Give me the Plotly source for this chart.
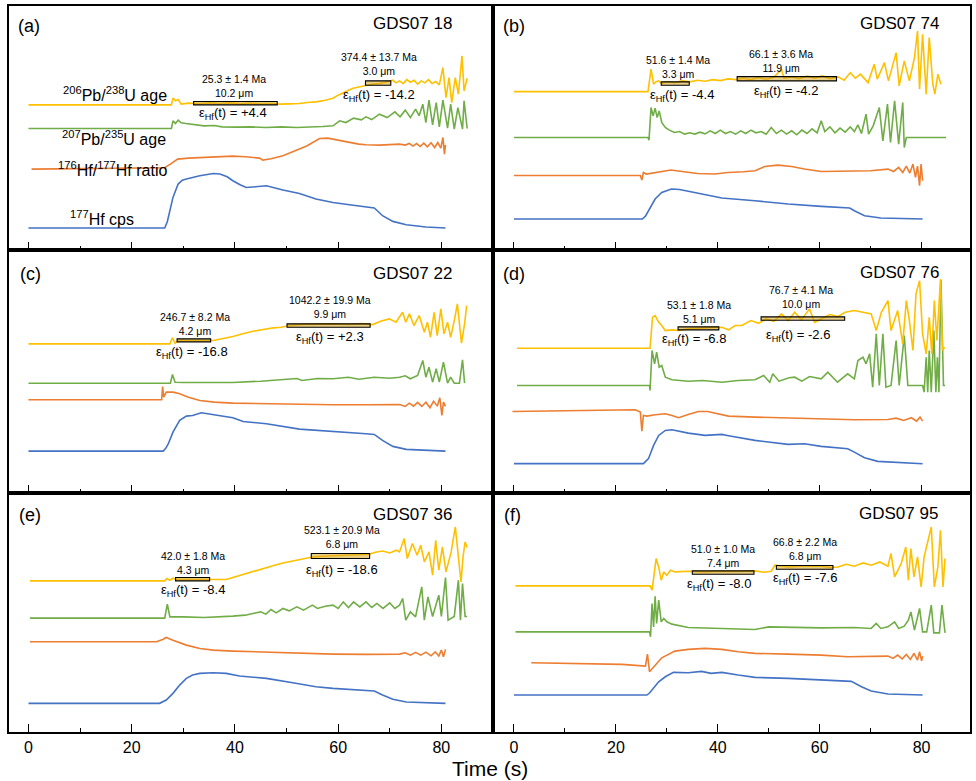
import plotly.graph_objects as go
from plotly.subplots import make_subplots

# signal traces: (time in s, relative signal level)
# panel (a) GDS07 18
a_pb206 = [(0, 145), (27.7, 145), (28.0, 151.7), (28.5, 149), (29.0, 150.3), (29.6, 145.7), (31, 146.7), (33, 146),
           (35, 147), (37, 146.3), (39, 147), (41, 146), (43, 146.7), (45, 146), (47, 146.3), (48.6, 145.7), (50.5, 146),
           (52.5, 146.3), (54, 147.3), (55.7, 148), (57.5, 149.7), (59, 151.7), (60, 154.7), (60.9, 157.3), (62, 159.7),
           (62.9, 161.7), (64.1, 163), (65.4, 165), (66.5, 165.7), (68, 166.3), (69, 167.3), (70.6, 169.7), (71.2, 167),
           (71.9, 169), (72.6, 166.3), (73.3, 170.3), (74, 167.7), (74.7, 169.7), (75.4, 165.7), (76.1, 169), (76.8, 167),
           (77.5, 170.3), (78.2, 166.3), (78.9, 168.3), (79.6, 165), (80.3, 182.3), (80.9, 152.3), (81.5, 172.3),
           (82.0, 147.3), (82.7, 172.3), (83.3, 155.7), (84.0, 194), (84.4, 159), (85.0, 171.7)]
a_pb207 = [(0, 121.3), (27.7, 121.3), (28.0, 129), (28.5, 126.3), (29, 129.7), (29.6, 127), (30.5, 126.3), (32, 125),
           (34, 124), (36, 124.3), (37.5, 123), (40, 122.7), (43, 123), (46, 122.3), (49, 123), (52, 122.3), (55, 122.7),
           (57, 123.3), (59, 124), (60.3, 129), (61.5, 127.3), (63, 131.7), (64.5, 130), (65.4, 133), (66.5, 130.3),
           (68, 135.7), (69.5, 132.3), (71, 138), (72, 133), (73, 139.7), (74, 132.3), (75, 140.7), (75.7, 134),
           (76.4, 145.7), (77, 127.3), (77.6, 149.7), (78.3, 125), (79, 147.3), (79.6, 123), (80.3, 149.7), (81.2, 121.7),
           (81.8, 145.7), (82.5, 120.7), (83.2, 142.3), (84.1, 120.7), (84.4, 149), (85.0, 121.3)]
a_hf_ratio = [(0.6, 80.7), (26.4, 82), (27.5, 85.7), (28.9, 90.7), (31, 91.7), (34, 92.3), (37, 93), (39.6, 93.7),
              (42, 93), (44.8, 91.7), (45.4, 89.7), (47, 91), (49.3, 94), (51, 97.3), (52.5, 100.7), (54, 104),
              (55, 107.3), (56.4, 111.3), (58, 111.7), (59, 110.7), (60.5, 109), (62.2, 107), (64, 105.7), (65.4, 105),
              (68, 104.7), (71.9, 105.7), (73, 104.7), (73.8, 106.3), (74.5, 103.7), (75.2, 106.3), (75.9, 103.3),
              (76.6, 106.7), (77.3, 103), (78, 107), (78.7, 102.3), (79.3, 107.3), (79.9, 101.7), (80.3, 112.3),
              (80.6, 95.7), (80.8, 105)]
a_hf_cps = [(0, 21.7), (26.4, 21.7), (26.9, 28), (27.4, 39), (28, 52.3), (29, 65.7), (29.8, 69.5), (30.6, 70.7),
            (33.2, 74), (35.8, 76.3), (37.1, 75.7), (38.5, 73), (39.6, 69), (41, 65), (42.2, 62.3), (44, 63),
            (46.1, 64), (49.3, 59.7), (52.5, 56.3), (55.7, 50.7), (59, 47.3), (62.2, 45), (65.4, 43), (67, 41.7),
            (67.8, 38), (68.6, 34), (70.6, 28.3), (73.2, 25), (77, 22.7), (80.8, 21.7)]

# panel (b) GDS07 74
b_pb206 = [(0, 158.3), (26.3, 158.3), (26.9, 180.7), (27.4, 165.7), (27.9, 168.3), (28.4, 169), (29, 166.3), (30, 168.3),
           (31.5, 167.3), (33, 169), (34.5, 168), (36, 169.7), (37.5, 168.7), (39, 170.3), (40.5, 169.3), (42, 171),
           (43.5, 170.3), (45, 171.7), (46.5, 170.3), (48, 172.3), (49.5, 170.7), (51, 172.7), (52.5, 180.7), (53, 171.7),
           (54.5, 173), (56, 171.3), (57.5, 173.7), (59, 171.7), (60.5, 174), (62, 171.3), (63.6, 173), (64.8, 169.7),
           (66, 177.3), (67, 171.7), (68, 175.7), (69.5, 167.3), (70.7, 185.7), (71.3, 170.7), (72.7, 187.3), (73.5, 169),
           (75, 197.3), (75.6, 164), (76.6, 189), (77.6, 169), (78.6, 192.3), (79.2, 219), (79.6, 160.7), (80.2, 215.7),
           (80.9, 155.7), (81.5, 212.3), (82.2, 165.7), (82.6, 155.7), (83.2, 175.7), (83.8, 165.7)]
b_pb207 = [(0, 112.3), (26.3, 112.3), (26.5, 109.7), (26.9, 142.3), (27.3, 134), (27.7, 141.7), (28.1, 132.3), (28.5, 139),
           (29, 127.3), (29.7, 122.3), (30.5, 119.7), (31.5, 117.3), (32.5, 118.3), (33.5, 115.7), (34.5, 117),
           (35.5, 115.7), (36.5, 117.7), (37.5, 116), (38.5, 119), (39.5, 116.3), (40.5, 119.7), (41.5, 116.3),
           (42.5, 118.3), (43.5, 115.7), (44.5, 119), (45.5, 116.3), (46.5, 119.7), (47.5, 117), (48.5, 118.3),
           (49.5, 115.7), (50.5, 122.3), (51.5, 116.3), (52.5, 119.7), (53.5, 115.7), (54.5, 119), (55.5, 115),
           (56.5, 119.7), (57.5, 116.3), (58.5, 121), (59.5, 117), (60.3, 129), (61, 118.3), (62, 123), (63, 117),
           (64, 121.7), (65, 117.7), (66, 123), (66.8, 118.3), (67.5, 125), (68.2, 116.3), (69.1, 135.7), (69.6, 115.7),
           (70.5, 124), (71.7, 142.3), (72.4, 109), (73.3, 145.7), (73.9, 107.3), (74.7, 149), (75.5, 105.7),
           (76.3, 147.3), (76.6, 102.3), (77, 112.3), (84.8, 112.3)]
b_hf_ratio = [(0, 74.3), (24.8, 74.3), (25.1, 69.7), (25.4, 77.3), (26, 75.7), (28, 77.3), (30.8, 79.7), (33, 78.3),
              (36, 76.3), (39.4, 75.7), (42, 77.3), (45, 78), (47.3, 79), (49.2, 83.3), (51.8, 84.7), (54.5, 83.3),
              (57, 80.7), (60.3, 78.3), (66.8, 78.3), (70, 79), (73.4, 80.7), (74.5, 78.3), (75.5, 82.3), (76.3, 77.3),
              (77, 83.7), (77.7, 76.7), (78.3, 85.7), (78.8, 72.3), (79.2, 83.7), (79.6, 64), (79.9, 85.7), (80.2, 69)]
b_hf_cps = [(0, 30.7), (25.2, 30.7), (25.8, 33.5), (26.4, 39), (27.7, 50.7), (29, 57.3), (30.9, 60.7), (32.5, 60.2),
            (34.2, 58.3), (40.8, 51.7), (47.3, 49), (53.8, 45.7), (60.3, 43.3), (65.9, 41.7), (66.8, 39), (68.8, 34),
            (72, 31.7), (76, 30.9), (80.2, 30.7)]

# panel (c) GDS07 22
c_pb206 = [(0, 149.2), (27.4, 149.2), (27.9, 155.2), (28.4, 149.8), (29, 152.5), (31, 152.2), (33, 152.5), (35.8, 152.5),
           (37.5, 154.2), (39.6, 156.5), (41.5, 159.2), (43.5, 161.8), (45.5, 163.5), (47.4, 165.2), (49, 165.8),
           (50.6, 167.5), (53, 168.5), (56, 169.2), (59, 169.2), (62, 168.5), (64.5, 169.5), (66.7, 168.5), (68.2, 171.8),
           (69.9, 174.2), (71.2, 170.8), (72.5, 180.8), (73.1, 170.8), (73.8, 179.2), (74.7, 167.5), (75.7, 177.5),
           (76.7, 160.8), (77.3, 170.8), (77.9, 155.8), (78.6, 180.8), (79.2, 157.5), (79.9, 184.2), (80.5, 159.2),
           (81.2, 170.8), (81.8, 155.8), (82.5, 172.5), (83.1, 189.2), (83.9, 149.8), (84.5, 169.2), (84.9, 187.5)]
c_pb207 = [(0, 109.8), (27.5, 109.8), (27.9, 118.5), (28.4, 110.8), (30, 110.5), (35, 110.2), (39.6, 110.5), (45, 111.8),
           (50, 113.2), (52, 114.5), (53, 112.5), (56, 114.5), (59, 114.2), (62, 115.8), (64, 113.8), (67, 115.8),
           (70, 114.8), (71.9, 115.8), (73, 117.2), (74, 114.2), (75.4, 117.5), (76.4, 132.5), (77, 115.8), (77.6, 125.8),
           (78.3, 110.8), (79, 124.2), (79.6, 110.8), (80.4, 130.8), (81.2, 109.8), (81.8, 115.8), (82.5, 109.8),
           (83.5, 109.8), (84.1, 133.2), (84.5, 109.8)]
c_hf_ratio = [(0, 93.2), (25.8, 93.2), (26, 106.5), (26.2, 95.8), (26.7, 100.8), (28, 100.8), (29.3, 99.2), (31, 95.8),
              (33.2, 92.5), (36, 90.8), (39.6, 89.8), (46.1, 89.2), (52.5, 88.5), (59, 88.2), (65.4, 88.2), (71.9, 88.5),
              (73, 86.5), (73.8, 89.8), (74.6, 86.8), (75.4, 90.5), (76.2, 86.5), (77, 90.8), (77.8, 85.2), (78.5, 91.8),
              (79.2, 86.8), (79.7, 95.2), (80.1, 77.5), (80.4, 90.8), (80.8, 86.5)]
c_hf_cps = [(0, 41.8), (26.1, 41.8), (26.6, 44.5), (27.1, 49.2), (28, 60.8), (29.3, 72.5), (30.6, 76.8), (31.8, 77.5),
            (33.5, 80.2), (35.8, 78.5), (39.6, 75.2), (41.6, 71.5), (46.1, 69.2), (52.5, 63.8), (59, 61.8), (65.4, 59.2),
            (67, 58.5), (68.6, 52.5), (70.6, 46.5), (73.2, 43.5), (80.8, 41.8)]

# panel (d) GDS07 76
d_pb206 = [(0.6, 144.8), (26.7, 144.8), (27.2, 175.8), (27.7, 177.5), (28.4, 170.8), (29.0, 167.5), (29.7, 162.5),
           (31, 163.2), (32.3, 162.5), (34.2, 164.2), (37.5, 165.2), (40.8, 165.8), (42.1, 163.2), (43.4, 167.5),
           (44.7, 167.5), (46.5, 172.5), (48, 169.8), (49.5, 174.2), (51, 171.8), (52.5, 179.2), (53.8, 172.5),
           (55.1, 180.8), (56.4, 173.2), (58, 184.2), (59, 170.8), (60.3, 174.2), (62, 178.5), (63.5, 176.5), (65, 180.8),
           (66.8, 182.5), (68.5, 180.8), (70.1, 179.2), (71.1, 162.5), (72.1, 180.8), (73.4, 192.5), (74, 162.5),
           (75.3, 182.5), (76.3, 149.2), (77, 192.5), (77.6, 172.5), (78.3, 142.5), (78.9, 199.2), (79.6, 212.5),
           (80.2, 159.2), (80.9, 139.2), (81.5, 175.8), (82.0, 139.2), (82.5, 192.5), (83.0, 152.5), (83.7, 214.2),
           (84.1, 142.5), (84.5, 145.8)]
d_pb207 = [(0.6, 107.5), (26.6, 107.5), (26.7, 102.5), (27.1, 142.5), (27.6, 129.2), (28.0, 140.8), (28.5, 125.8),
           (29.0, 127.5), (29.7, 115.8), (31, 113.2), (34.2, 111.8), (37, 112.5), (40.8, 110.8), (44, 112.5),
           (47.3, 113.2), (49, 117.5), (50.2, 110.8), (50.8, 119.2), (52, 111.8), (54, 115.2), (55.1, 115.8),
           (56.5, 111.8), (58, 116.5), (60.3, 114.2), (61.6, 120.8), (63.5, 110.8), (65.5, 119.2), (66.8, 114.2),
           (67.5, 132.5), (68.5, 135.8), (69.1, 129.2), (69.8, 139.2), (70.4, 105.8), (71.1, 159.2), (71.7, 107.5),
           (72.4, 159.2), (73.0, 105.8), (74.0, 107.5), (75.0, 152.5), (75.6, 107.5), (76.6, 157.5), (77.3, 107.5),
           (80.2, 107.5), (80.5, 100.8), (80.9, 135.8), (81.2, 100.8), (81.5, 142.5), (81.9, 100.8), (82.4, 162.5),
           (82.8, 100.8), (83.1, 135.8), (83.4, 100.8), (83.8, 213.2), (84.3, 107.5), (84.6, 107.5)]
d_hf_ratio = [(-0.3, 81.5), (10, 82.2), (23.8, 83.2), (24.8, 80.8), (25.1, 61.8), (25.4, 77.5), (26.1, 76.8),
              (27.7, 78.2), (29.7, 79.2), (31, 77.5), (32.3, 75.2), (34.2, 78.5), (36.2, 81.5), (38, 81.5), (40, 79.2),
              (42.1, 76.8), (47.3, 75.8), (53.8, 74.8), (60.3, 73.5), (66.8, 73.2), (73.4, 73.5), (75, 74.8),
              (76.5, 72.5), (78, 75.2), (79, 71.8), (79.7, 75.8), (80.2, 71.8)]
d_hf_cps = [(0, 29.2), (25.4, 29.2), (26.4, 34.2), (27.4, 47.5), (28.4, 57.5), (29.7, 62.5), (31, 63.2), (34.2, 59.8),
            (37.5, 57.5), (40.8, 58.5), (42.1, 57.2), (47.3, 52.5), (53.8, 48.5), (57, 49.2), (60.3, 46.5),
            (65.5, 44.2), (66.8, 40.8), (68.8, 35.2), (71.4, 31.5), (76.6, 29.8), (80.2, 29.2)]

# panel (e) GDS07 36
e_pb206 = [(0.3, 151.3), (26.4, 151.3), (26.8, 153.7), (27.4, 152), (28, 154), (28.7, 152.7), (31, 152.7), (34, 153),
           (38.3, 152.7), (39.6, 154.7), (41, 156.7), (42.2, 158.7), (44, 161.3), (46.1, 164.7), (47.7, 167),
           (49.3, 169.3), (51, 171.3), (52.5, 172.7), (54, 174.3), (55, 175.3), (57, 176), (59, 176.3), (61, 176.7),
           (63, 177.3), (66, 178), (67.2, 180), (68.6, 181.3), (70, 179.3), (71.3, 182), (71.9, 180.3), (72.8, 193.7),
           (73.4, 173.7), (74.4, 188.7), (75.3, 177), (76, 187), (76.7, 170.3), (77.6, 180.3), (78.3, 157), (78.9, 192),
           (79.5, 162), (80.2, 185.3), (80.9, 160.3), (81.9, 180.3), (82.7, 205.3), (83.3, 175.3), (83.8, 150.3),
           (84.2, 175.3), (84.6, 190.3), (85.0, 184.7)]
e_pb207 = [(0.3, 114), (26.4, 114), (26.9, 128), (27.4, 115.3), (30, 115.3), (34, 114.7), (39.6, 116), (42, 117),
           (43.5, 118.7), (45, 120.3), (46, 118), (47, 122.7), (48, 119.3), (49.3, 123.7), (50.5, 121.3), (52, 125.3),
           (53.3, 122), (55, 127), (56, 123.7), (57.5, 126), (59, 127), (60, 123.7), (61, 130.3), (62, 124.7),
           (63, 130.3), (64.2, 125.3), (65.4, 130.3), (66.5, 124.7), (67.5, 128.7), (68.7, 123.7), (70, 129.3),
           (71, 123.7), (71.9, 127), (72.5, 133.7), (73.1, 112), (74, 120.3), (75, 115.3), (76.2, 145.3), (76.7, 112),
           (77.4, 135.3), (78.3, 115.7), (79.5, 137), (80, 115.7), (80.8, 154.7), (81.3, 112), (82.5, 115.7),
           (83.3, 152), (83.7, 112), (84.1, 148.7), (84.6, 115.7), (85, 115.7)]
e_hf_ratio = [(0.3, 90.3), (24.8, 90.3), (26, 92.7), (26.7, 94.7), (28, 92), (30.6, 87), (33.2, 83.7), (35.8, 82),
              (39.6, 81), (46.1, 80), (52.5, 78.7), (59, 78), (65.4, 77.7), (71.9, 78), (73, 79.3), (74, 77),
              (75, 79.7), (76, 77), (77, 80), (78, 76.3), (78.8, 80.3), (79.5, 76), (80, 82), (80.4, 75.3), (80.8, 82.7)]
e_hf_cps = [(0, 28.7), (25.4, 28.7), (26.7, 32), (28, 38.7), (29.3, 47), (30.6, 53.7), (31.8, 57), (33.2, 58.7),
            (35.8, 59.3), (38.3, 58.7), (40.9, 56), (46.1, 53.7), (51.2, 49.3), (55.7, 45.3), (59, 43.7), (65.4, 42),
            (67, 41), (68.6, 37), (70.6, 32.7), (73.2, 30), (80.8, 28.7)]

# panel (f) GDS07 95
f_pb206 = [(0.3, 146.3), (26.7, 146.3), (27.1, 142), (27.9, 173.7), (28.4, 165.3), (28.9, 152), (29.4, 160.3), (30, 157),
           (30.7, 162), (31.6, 160.3), (34.2, 161), (37.5, 160.3), (40.8, 161), (44, 160.7), (47.3, 161.3), (49, 160),
           (50.5, 161), (51.2, 167), (53.8, 165.3), (57, 166.3), (60.3, 166), (62, 164.7), (63.6, 165.3), (65.2, 168),
           (66.8, 166), (68.5, 169.3), (70.1, 167), (71.8, 170.3), (73.4, 166), (74.0, 178.7), (74.7, 155.3),
           (76, 168.7), (76.9, 185.3), (77.4, 152), (77.9, 183.7), (78.5, 155.3), (79.2, 175.3), (79.9, 145.3),
           (80.5, 175.3), (81.1, 188.7), (81.9, 205.3), (82.5, 145.3), (83.2, 165.3), (83.7, 202), (84.2, 145.3),
           (84.6, 173.7)]
f_pb207 = [(0.3, 100.3), (26.6, 100.3), (26.8, 95.3), (27.1, 128.7), (27.4, 105.3), (27.7, 136), (28.0, 108.7),
           (28.4, 132), (28.9, 110.3), (29.4, 113.7), (30.0, 110.3), (31, 108), (34.2, 104.7), (40.8, 103.7),
           (47.3, 102.7), (50, 105.3), (53.8, 104.7), (60.3, 104.3), (66.8, 104.7), (70.1, 103.7), (71.1, 108.7),
           (72, 103.7), (73.4, 105.3), (74.7, 110.3), (75.5, 103.7), (76.6, 106), (77.4, 112), (77.9, 120.3), (78.6, 102),
           (79.6, 123.7), (80.2, 100.3), (81.0, 100.3), (81.9, 127), (82.4, 99.3), (83.5, 99.3), (84.0, 127), (84.6, 99.3)]
f_hf_ratio = [(3.4, 69.3), (21.2, 67.7), (25.8, 66), (26.2, 78), (26.6, 60.3), (27.4, 65.3), (29, 74.3), (31.6, 81),
              (34.2, 82.7), (37.5, 83.7), (40.8, 82.7), (44, 80.3), (47.3, 78.7), (53.8, 78), (60.3, 77), (65.5, 75.3),
              (70, 75.3), (73.4, 76), (74.4, 73.7), (75.3, 77), (76.2, 73.3), (77, 77.7), (77.8, 72.7), (78.5, 78.7),
              (79.2, 72), (79.6, 80.3), (80.0, 71.3), (80.2, 76)]
f_hf_cps = [(0, 37), (26.1, 37), (26.6, 39), (27.1, 42), (28.4, 50.3), (29.7, 55.3), (31.3, 59.7), (34.2, 59.3),
            (36.8, 60.7), (38.7, 58.7), (40.8, 59.7), (44, 57), (47.3, 54.7), (53.8, 53.7), (60.3, 52), (66.2, 50.7),
            (68.2, 45.3), (70.1, 41), (73.4, 38), (80.2, 37)]

# labels and results
panel_tags = ["(a)", "(b)", "(c)", "(d)", "(e)", "(f)"]
sample_names = ["GDS07 18", "GDS07 74", "GDS07 22", "GDS07 76", "GDS07 36", "GDS07 95"]
ages = [["25.3 ± 1.4 Ma", "374.4 ± 13.7 Ma"], ["51.6 ± 1.4 Ma", "66.1 ± 3.6 Ma"],
        ["246.7 ± 8.2 Ma", "1042.2 ± 19.9 Ma"], ["53.1 ± 1.8 Ma", "76.7 ± 4.1 Ma"],
        ["42.0 ± 1.8 Ma", "523.1 ± 20.9 Ma"], ["51.0 ± 1.0 Ma", "66.8 ± 2.2 Ma"]]
depths = [["10.2 μm", "3.0 μm"], ["3.3 μm", "11.9 μm"], ["4.2 μm", "9.9 μm"],
          ["5.1 μm", "10.0 μm"], ["4.3 μm", "6.8 μm"], ["7.4 μm", "6.8 μm"]]
eps_hf = [["+4.4", "-14.2"], ["-4.4", "-4.2"], ["-16.8", "+2.3"],
          ["-6.8", "-2.6"], ["-8.4", "-18.6"], ["-8.0", "-7.6"]]
# integration windows (s)
windows = [[(32.0, 48.2), (65.3, 70.2)], [(28.9, 34.4), (43.8, 63.3)], [(28.8, 35.3), (50.1, 66.2)],
           [(32.2, 40.2), (48.5, 64.9)], [(28.5, 35.1), (54.8, 66.1)], [(35.0, 47.1), (51.5, 62.6)]]
channel_names = ["<sup>206</sup>Pb/<sup>238</sup>U age", "<sup>207</sup>Pb/<sup>235</sup>U age",
                 "<sup>176</sup>Hf/<sup>177</sup>Hf ratio", "<sup>177</sup>Hf cps"]

# placement of the boxes and text (time, level); age_xy is the centre of the two-line age/depth label
box_levels = [[(145.0, 148.3), (164.7, 169.0)], [(164.7, 168.0), (169.0, 173.3)], [(151.2, 154.2), (165.8, 169.2)],
              [(163.2, 166.2), (172.8, 176.2)], [(151.3, 154.7), (173.7, 178.7)], [(158.0, 161.3), (163.0, 166.7)]]
age_xy = [[(39.9, 164.3), (68.0, 186.0)], [(32.2, 183.4), (52.4, 188.8)], [(32.2, 169.2), (58.4, 186.1)],
          [(36.3, 181.5), (56.4, 196.2)], [(31.9, 169.7), (60.8, 195.7)], [(41.0, 176.6), (57.2, 183.3)]]
eps_xy = [[(39.6, 136.0), (68.0, 154.0)], [(32.9, 154.7), (53.3, 158.3)], [(31.7, 140.8), (58.5, 155.2)],
          [(35.4, 153.2), (55.8, 157.5)], [(31.9, 141.3), (60.8, 161.3)], [(40.3, 147.7), (57.2, 153.7)]]
tag_xy = [(0.2, 224), (0, 224), (0.3, 219.5), (0, 219.5), (0.3, 217), (-0.3, 217)]
name_xy = [(74.4, 226), (75.7, 226), (74.4, 219.8), (75.7, 220.8), (74.4, 218), (75.5, 219)]
channel_xy = [(16.7, 156), (16.5, 112), (16.2, 81), (14.2, 32)]

FONT = "Liberation Sans, Arial, sans-serif"
YELLOW, GREEN, ORANGE, BLUE = "#FFC000", "#70AD47", "#ED7D31", "#4472C4"

row_px = [244, 243.5, 239.5]
col_px = [485.5, 477.5]
x_ranges = [[-3.77, 90.1], [-4.02, 89.5]]

signals = [
    (a_pb206, a_pb207, a_hf_ratio, a_hf_cps),
    (b_pb206, b_pb207, b_hf_ratio, b_hf_cps),
    (c_pb206, c_pb207, c_hf_ratio, c_hf_cps),
    (d_pb206, d_pb207, d_hf_ratio, d_hf_cps),
    (e_pb206, e_pb207, e_hf_ratio, e_hf_cps),
    (f_pb206, f_pb207, f_hf_ratio, f_hf_cps),
]

fig = make_subplots(rows=3, cols=2, row_heights=row_px, column_widths=col_px,
                    horizontal_spacing=0, vertical_spacing=0)

for i, (pb206, pb207, ratio, cps) in enumerate(signals):
    r, c = i // 2 + 1, i % 2 + 1
    # draw cps first so the age traces end up on top
    for series, colour in [(cps, BLUE), (ratio, ORANGE), (pb207, GREEN), (pb206, YELLOW)]:
        fig.add_trace(go.Scatter(
            x=[p[0] for p in series], y=[p[1] for p in series],
            mode="lines", line=dict(color=colour, width=1.6),
            showlegend=False, hoverinfo="skip"), row=r, col=c)

    for k in range(2):
        t0, t1 = windows[i][k]
        y0, y1 = box_levels[i][k]
        fig.add_shape(type="rect", x0=t0, x1=t1, y0=y0, y1=y1,
                      line=dict(color="black", width=1.1),
                      fillcolor="rgba(215,165,30,0.55)", layer="above", row=r, col=c)
        ax, ay = age_xy[i][k]
        fig.add_annotation(x=ax, y=ay, text=ages[i][k] + "<br>" + depths[i][k], showarrow=False,
                           font=dict(size=10.5, color="black"), row=r, col=c)
        ex, ey = eps_xy[i][k]
        fig.add_annotation(x=ex, y=ey, text="ε<sub>Hf</sub>(t) = " + eps_hf[i][k], showarrow=False,
                           font=dict(size=13, color="black"), row=r, col=c)

    fig.add_annotation(x=tag_xy[i][0], y=tag_xy[i][1], text=panel_tags[i], showarrow=False,
                       font=dict(size=18, color="black"), row=r, col=c)
    fig.add_annotation(x=name_xy[i][0], y=name_xy[i][1], text=sample_names[i], showarrow=False,
                       font=dict(size=17, color="black"), row=r, col=c)

    fig.update_xaxes(range=x_ranges[c - 1], showline=True, mirror=True, linecolor="black", linewidth=2,
                     ticks="inside", ticklen=8, tickwidth=1.3, tickcolor="black", tick0=0, dtick=20,
                     minor=dict(ticks="inside", ticklen=4, tickwidth=1.3, tickcolor="black", dtick=10),
                     showgrid=False, zeroline=False, showticklabels=(r == 3),
                     tickfont=dict(size=16, color="black"), row=r, col=c)
    fig.update_yaxes(range=[0, row_px[r - 1]], showline=True, mirror=True, linecolor="black", linewidth=2,
                     ticks="", showticklabels=False, showgrid=False, zeroline=False, row=r, col=c)

for name, (cx, cy) in zip(channel_names, channel_xy):
    fig.add_annotation(x=cx, y=cy, text=name, showarrow=False,
                       font=dict(size=16, color="black"), row=1, col=1)

fig.add_annotation(x=0.5, y=-0.05, xref="paper", yref="paper", text="Time (s)", showarrow=False,
                   font=dict(size=21, color="black"), yanchor="middle")

fig.update_layout(width=976, height=781, margin=dict(l=9, r=4, t=5, b=49),
                  paper_bgcolor="white", plot_bgcolor="white",
                  font=dict(family=FONT, color="black"))

# the page body has a default 8px margin; drop it so the figure sits at the window corner
fig.write_html("out.html", config={"displayModeBar": False},
               post_script="document.body.style.margin='0';")
